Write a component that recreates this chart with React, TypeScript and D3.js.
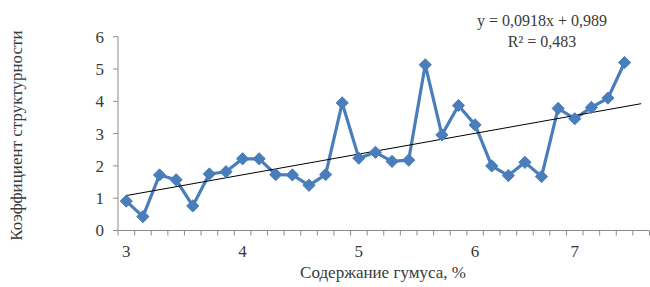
import { useEffect, useRef } from "react"
import * as d3 from "d3"

// humus content categories (only some are labelled on the axis)
const categories = [
  "3", "", "", "", "", "", "", "4", "", "", "", "", "", "", "5", "", "",
  "", "", "", "", "6", "", "", "", "", "", "7", "", "", "", "",
]

// structure coefficient
const values = [
  0.91, 0.43, 1.72, 1.57, 0.76, 1.75, 1.82, 2.22, 2.22, 1.73, 1.72, 1.4, 1.73, 3.95, 2.24, 2.42,
  2.14, 2.18, 5.13, 2.96, 3.87, 3.27, 2.0, 1.7, 2.11, 1.67, 3.78, 3.46, 3.81, 4.1, 5.2,
]

const yTicks = [0, 1, 2, 3, 4, 5, 6]

// linear trend from Excel
const slope = 0.0918
const intercept = 0.989
const r2 = "0,483"

const App = () => {
  const svgRef = useRef<SVGSVGElement | null>(null)

  useEffect(() => {
    if (!svgRef.current) return
    const svg = d3.select(svgRef.current)
    svg.selectAll("*").remove()

    const left = 118
    const right = 649.5
    const top = 36.7
    const bottom = 230.5
    const font = "'Liberation Serif', 'Times New Roman', serif"
    const textColor = "#3a3a3a"
    const axisColor = "#8c8c8c"

    const x = d3.scaleBand<number>().domain(d3.range(categories.length)).range([left, right]).padding(0)
    const cx = (i: number) => (x(i) ?? 0) + x.bandwidth() / 2
    const y = d3.scaleLinear().domain([0, 6]).range([bottom, top])

    // y axis
    svg.append("line")
      .attr("x1", left).attr("x2", left).attr("y1", top).attr("y2", bottom)
      .attr("stroke", axisColor).attr("stroke-width", 1)
    svg.selectAll(".ytick")
      .data(yTicks)
      .join("line")
      .attr("x1", left - 5).attr("x2", left)
      .attr("y1", (d) => y(d)).attr("y2", (d) => y(d))
      .attr("stroke", axisColor)
    svg.selectAll(".ylab")
      .data(yTicks)
      .join("text")
      .attr("x", left - 14)
      .attr("y", (d) => y(d))
      .attr("dy", "0.35em")
      .attr("text-anchor", "end")
      .attr("font-family", font)
      .attr("font-size", 17)
      .attr("fill", textColor)
      .text((d) => d)

    // x axis
    svg.append("line")
      .attr("x1", left).attr("x2", right).attr("y1", bottom).attr("y2", bottom)
      .attr("stroke", axisColor).attr("stroke-width", 1)
    const bounds = d3.range(categories.length + 1).map((i) => left + i * x.bandwidth())
    svg.selectAll(".xtick")
      .data(bounds)
      .join("line")
      .attr("x1", (d) => d).attr("x2", (d) => d)
      .attr("y1", bottom).attr("y2", bottom + 5)
      .attr("stroke", axisColor)
    svg.selectAll(".xlab")
      .data(categories.map((c, i) => ({ c, i })).filter((d) => d.c !== ""))
      .join("text")
      .attr("x", (d) => cx(d.i))
      .attr("y", bottom + 26)
      .attr("text-anchor", "middle")
      .attr("font-family", font)
      .attr("font-size", 17)
      .attr("fill", textColor)
      .text((d) => d.c)

    // axis titles
    svg.append("text")
      .attr("x", 383)
      .attr("y", 278)
      .attr("text-anchor", "middle")
      .attr("font-family", font)
      .attr("font-size", 17)
      .attr("fill", textColor)
      .text("Содержание гумуса, %")
    svg.append("text")
      .attr("transform", `translate(22,${(top + bottom) / 2 + 2}) rotate(-90)`)
      .attr("text-anchor", "middle")
      .attr("font-family", font)
      .attr("font-size", 17)
      .attr("fill", textColor)
      .text("Коэффициент структурности")

    // series line
    const line = d3.line<number>().x((d, i) => cx(i)).y((d) => y(d))
    svg.append("path")
      .datum(values)
      .attr("d", line)
      .attr("fill", "none")
      .attr("stroke", "#4a7ebb")
      .attr("stroke-width", 3.2)
      .attr("stroke-linejoin", "round")

    // trendline (x = 1..n, forecast one period forward)
    const trendPts = [1, categories.length]
    svg.append("line")
      .attr("x1", cx(trendPts[0] - 1)).attr("y1", y(slope * trendPts[0] + intercept))
      .attr("x2", cx(trendPts[1] - 1)).attr("y2", y(slope * trendPts[1] + intercept))
      .attr("stroke", "#000").attr("stroke-width", 1)

    // diamond markers
    const diamond = d3.symbol().type(d3.symbolDiamond2).size(95)
    svg.selectAll(".pt")
      .data(values)
      .join("path")
      .attr("d", diamond)
      .attr("transform", (d, i) => `translate(${cx(i)},${y(d)})`)
      .attr("fill", "#4a7ebb")
      .attr("stroke", "#4a7ebb")
      .attr("stroke-width", 1)

    // equation label
    svg.append("text")
      .attr("x", 542)
      .attr("y", 26)
      .attr("text-anchor", "middle")
      .attr("font-family", font)
      .attr("font-size", 16)
      .attr("fill", textColor)
      .text(`y = ${String(slope).replace(".", ",")}x + ${String(intercept).replace(".", ",")}`)
    svg.append("text")
      .attr("x", 542)
      .attr("y", 47)
      .attr("text-anchor", "middle")
      .attr("font-family", font)
      .attr("font-size", 16)
      .attr("fill", textColor)
      .text(`R² = ${r2}`)
  }, [])

  return (
    <svg
      ref={svgRef}
      width={650}
      height={287}
      style={{ position: "absolute", left: 0, top: 0, background: "#fff" }}
    />
  )
}

export default App
